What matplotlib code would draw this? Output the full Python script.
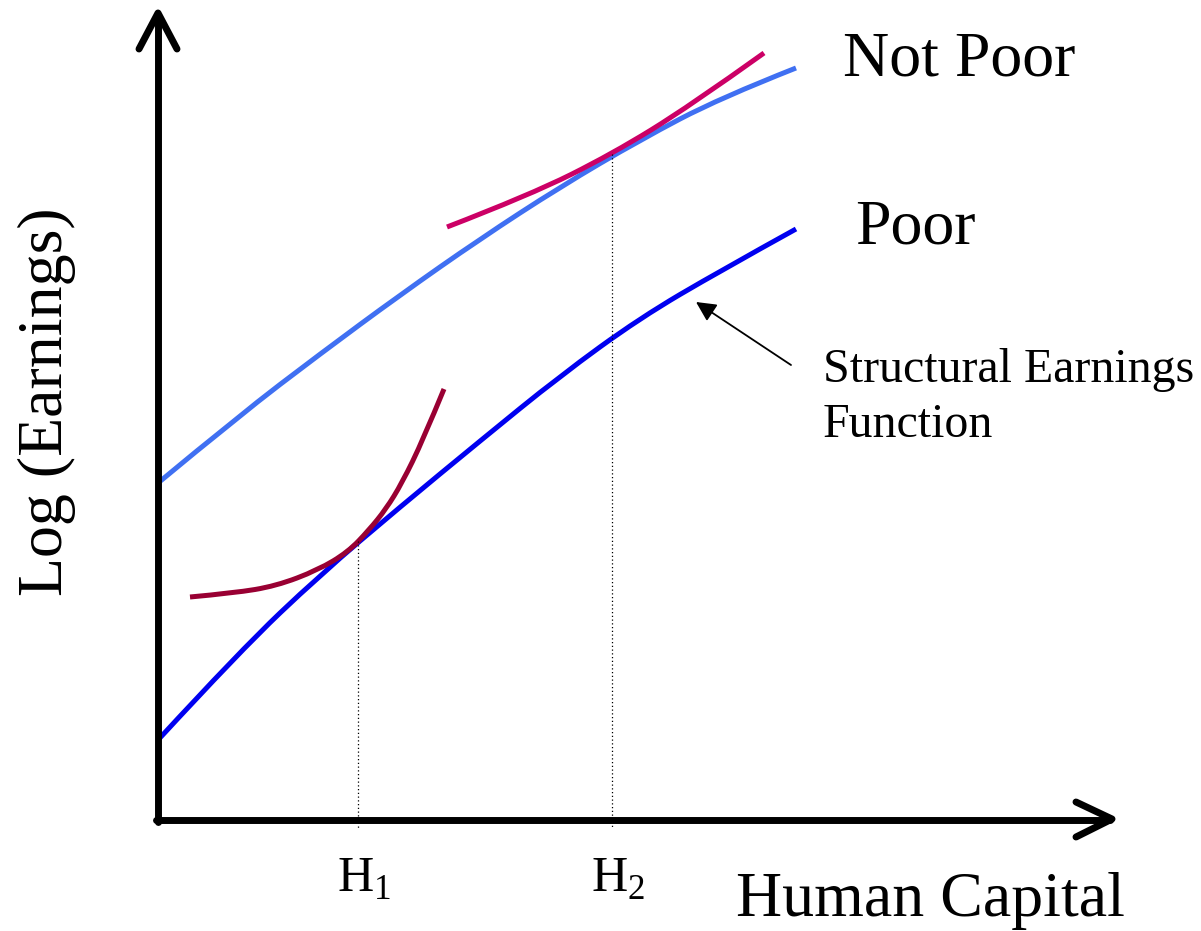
"""
Structural earnings function sketch: Poor vs Not Poor
"""
import matplotlib.pyplot as plt
from matplotlib.path import Path
from matplotlib.patches import PathPatch

# ── Data (canvas pixel units) ────────────────────────────────────────────────
notpoor_x = [158, 240, 320, 400, 480, 560, 640, 720, 796]
notpoor_y = [483, 415, 354, 295, 239, 187, 140, 98, 68]

poor_x = [158, 240, 320, 400, 480, 560, 640, 720, 796]
poor_y = [740, 651, 575, 507, 441, 376, 318, 271, 229]

tan1_x = [190, 234, 276, 318, 348, 369, 386, 402, 423, 444]
tan1_y = [597, 593, 586, 570, 552, 530, 509, 483, 440, 389]

tan2_x = [447, 530, 612, 690, 764]
tan2_y = [227, 195, 154, 106, 53]

h_pos = [358, 612]
h_top = [541, 154]
h_labels = ["H$_1$", "H$_2$"]


def smooth_curve(ax, xs, ys, **kw):
    # quadratic bezier through midpoints -> smooth hand-drawn look
    pts = list(zip(xs, ys))
    verts, codes = [pts[0]], [Path.MOVETO]
    for i in range(1, len(pts) - 1):
        nxt = pts[i + 1] if i == len(pts) - 2 else (
            (pts[i][0] + pts[i + 1][0]) / 2, (pts[i][1] + pts[i + 1][1]) / 2)
        verts += [pts[i], nxt]
        codes += [Path.CURVE3, Path.CURVE3]
    ax.add_patch(PathPatch(Path(verts, codes), fill=False, capstyle="butt", **kw))


# ── Plot ─────────────────────────────────────────────────────────────────────
plt.rcParams["mathtext.fontset"] = "custom"
plt.rcParams["mathtext.rm"] = "Liberation Serif"
serif = "Liberation Serif"

fig = plt.figure(figsize=(12.01, 9.31), dpi=100)
ax = fig.add_axes([0, 0, 1, 1])
ax.set_xlim(0, 1201)
ax.set_ylim(931, 0)
ax.axis("off")

# axes with chevron arrow heads
axkw = dict(color="black", linewidth=5, solid_capstyle="round", solid_joinstyle="round")
ax.plot([158, 158], [822, 16], **axkw)
ax.plot([156, 1110], [820, 820], **axkw)
ax.plot([139, 158, 177], [49, 13, 49], **axkw)
ax.plot([1076, 1112, 1076], [802, 819, 837], **axkw)

# dotted guides
for x, top in zip(h_pos, h_top):
    ax.plot([x, x], [top, 828], color="black", linewidth=0.9, linestyle=(0, (1, 2)))

# curves
smooth_curve(ax, notpoor_x, notpoor_y, edgecolor="#4070f2", linewidth=3.6)
smooth_curve(ax, poor_x, poor_y, edgecolor="#0000f0", linewidth=3.6)
smooth_curve(ax, tan1_x, tan1_y, edgecolor="#990033", linewidth=3.6)
smooth_curve(ax, tan2_x, tan2_y, edgecolor="#cc0066", linewidth=3.6)

# labels
for x, lab in zip(h_pos, h_labels):
    ax.text(x - 21, 892, lab, fontsize=36, family=serif, ha="left", va="baseline")

ax.text(843, 76, "Not Poor", fontsize=46, family=serif, ha="left", va="baseline")
ax.text(855, 244, "Poor", fontsize=46, family=serif, ha="left", va="baseline")
ax.text(930, 916, "Human Capital", fontsize=46, family=serif, ha="center", va="baseline")
ax.text(47, 402, "Log (Earnings)", fontsize=46, family=serif, ha="center",
        va="center", rotation=90)
ax.text(823, 382, "Structural Earnings", fontsize=34.5, family=serif,
        ha="left", va="baseline")
ax.text(823, 437, "Function", fontsize=34.5, family=serif,
        ha="left", va="baseline")

ax.annotate("", xy=(696, 302), xytext=(791, 365),
            arrowprops=dict(arrowstyle="-|>", color="black", lw=1.3,
                            mutation_scale=30, shrinkA=0, shrinkB=0))

fig.savefig("out.png", dpi=100)
